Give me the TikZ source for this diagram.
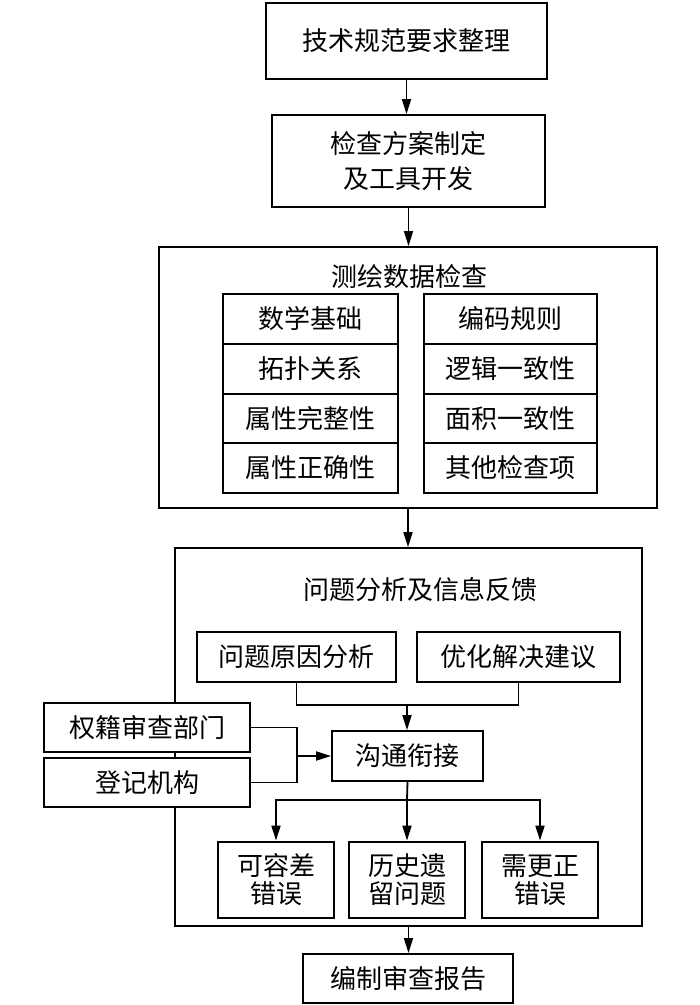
\documentclass[tikz,border=0pt]{standalone}
\usepackage{fontspec}
\setmainfont{Noto Sans CJK SC}
\usetikzlibrary{arrows.meta,calc}
\begin{document}
\begin{tikzpicture}[x=1pt,y=-1pt,
  box/.style={draw,line width=1.8pt,fill=white,inner sep=0pt,align=center,
    font=\fontsize{26}{35}\selectfont},
  thickbox/.style={box,line width=2.8pt,font=\fontsize{26}{28}\selectfont},
  frame/.style={draw,line width=1.8pt,inner sep=0pt},
  title/.style={font=\fontsize{26}{30}\selectfont,inner sep=0pt},
  conn/.style={line width=1.8pt},
  arr/.style={conn,-{Triangle[length=15pt,width=9pt]}}]
\useasboundingbox (0,0) rectangle (700,1005);
% top boxes
\node[box,minimum width=281pt,minimum height=76pt] (b1) at (406.5,41) {技术规范要求整理};
\node[box,minimum width=273pt,minimum height=92pt] (b2) at (408.5,161) {检查方案制定\\及工具开发};
% survey data check
\node[frame,minimum width=498pt,minimum height=261pt] (b3) at (408,377.5) {};
\node[title] (t3) at (409,277) {测绘数据检查};
\node[box,minimum width=175pt,minimum height=50pt] (l1) at (310.5,319) {数学基础};
\node[box,minimum width=175pt,minimum height=50pt] (l2) at (310.5,369) {拓扑关系};
\node[box,minimum width=175pt,minimum height=49pt] (l3) at (310.5,418.5) {属性完整性};
\node[box,minimum width=175pt,minimum height=50pt] (l4) at (310.5,468) {属性正确性};
\node[box,minimum width=173pt,minimum height=50pt] (r1) at (510.5,319) {编码规则};
\node[box,minimum width=173pt,minimum height=50pt] (r2) at (510.5,369) {逻辑一致性};
\node[box,minimum width=173pt,minimum height=49pt] (r3) at (510.5,418.5) {面积一致性};
\node[box,minimum width=173pt,minimum height=50pt] (r4) at (510.5,468) {其他检查项};
% analysis and feedback
\node[frame,minimum width=467pt,minimum height=378pt] (b4) at (408.5,737) {};
\node[title] (t4) at (420,590) {问题分析及信息反馈};
\node[box,minimum width=199pt,minimum height=50pt] (q1) at (296.5,657) {问题原因分析};
\node[box,minimum width=203pt,minimum height=50pt] (q2) at (518.5,657) {优化解决建议};
\node[box,minimum width=151pt,minimum height=50pt] (c) at (407.5,756) {沟通衔接};
\node[box,minimum width=206pt,minimum height=49pt] (p1) at (147,727.5) {权籍审查部门};
\node[box,minimum width=206pt,minimum height=49pt] (p2) at (147,782.5) {登记机构};
\node[thickbox,minimum width=116pt,minimum height=76pt] (e1) at (276,880) {可容差\\错误};
\node[thickbox,minimum width=116pt,minimum height=76pt] (e2) at (407,880) {历史遗\\留问题};
\node[thickbox,minimum width=116pt,minimum height=76pt] (e3) at (540,880) {需更正\\错误};
\node[box,minimum width=210pt,minimum height=49pt] (f) at (408,978.5) {编制审查报告};
% connectors
\draw[arr] (b1.south) -- (b1.south |- b2.north);
\draw[arr] (b2.south) -- (b2.south |- b3.north);
\draw[arr] (b3.south) -- (b3.south |- b4.north);
\coordinate (j) at (407,705);
\draw[conn] (q1.south) |- (j) -| (q2.south);
\draw[arr] (j) -- (j |- c.north);
\coordinate (k) at (297,756);
\draw[conn] (p1.east) -| (k) |- (p2.east);
\draw[arr] (k) -- (c.west);
\coordinate (m) at (407,800);
\draw[conn] (c.south) -- (m);
\draw[arr] (m) -| (e1.north);
\draw[arr] (m) -| (e3.north);
\draw[arr] (m) -- (e2.north);
\draw[arr] (b4.south) -- (b4.south |- f.north);
\end{tikzpicture}
\end{document}
